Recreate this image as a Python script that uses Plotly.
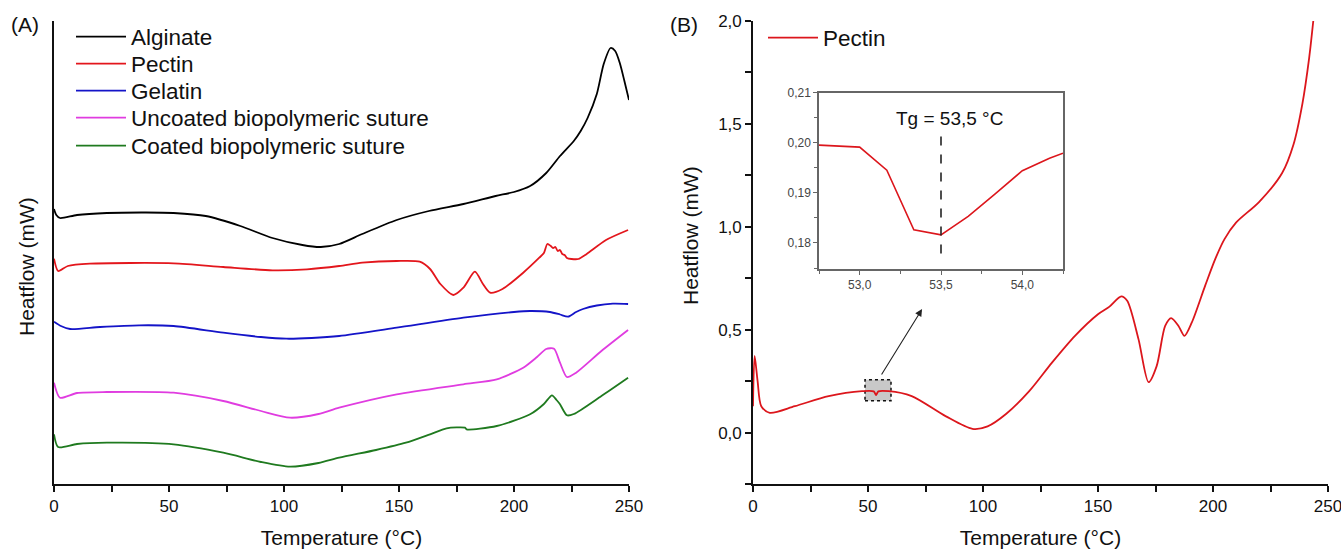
import plotly.graph_objects as go

W, H = 1341, 549

# ---------------- Panel A data (arbitrary offset units) ----------------
T_ALG = [0, 1, 2.6, 10, 23, 40, 52, 66, 81, 95, 108, 116, 124, 134, 149, 163, 178, 192, 200, 207,
         214, 220, 226, 229, 232, 236, 239, 242, 244, 246, 248, 250]
Y_ALG = [2.75, 2.69, 2.66, 2.69, 2.71, 2.715, 2.71, 2.68, 2.58, 2.46, 2.39, 2.37, 2.40, 2.50, 2.64,
         2.73, 2.80, 2.88, 2.92, 2.98, 3.11, 3.28, 3.43, 3.53, 3.66, 3.90, 4.20, 4.36, 4.33, 4.21, 4.03, 3.84]

T_PEC_A = [0, 1.8, 6, 15.6, 52, 73.6, 95, 110, 124, 134, 149, 159, 163.5, 168, 173.6, 178, 183, 186.5,
           189.6, 195, 204, 211, 213, 214.5, 216, 217, 218, 219, 220, 221, 222, 223, 225, 228, 231.6, 240, 249.6]
Y_PEC_A = [2.253, 2.13, 2.18, 2.203, 2.207, 2.17, 2.137, 2.147, 2.18, 2.213, 2.23, 2.223, 2.15, 2.00,
           1.89, 1.963, 2.123, 2.00, 1.913, 1.95, 2.113, 2.263, 2.31, 2.40, 2.38, 2.36, 2.37, 2.33, 2.34,
           2.30, 2.29, 2.26, 2.25, 2.25, 2.30, 2.44, 2.54]

T_GEL = [0, 3, 7, 20, 37, 52, 73.6, 90, 101, 112, 124, 149, 178, 200, 207, 215.6, 220, 223.5, 227,
         230, 236, 243, 249.6]
Y_GEL = [1.623, 1.58, 1.55, 1.57, 1.587, 1.58, 1.513, 1.47, 1.453, 1.46, 1.48, 1.563, 1.663, 1.72,
         1.73, 1.72, 1.695, 1.673, 1.72, 1.75, 1.785, 1.803, 1.80]

T_UNC = [0, 2.6, 10, 23, 52, 73.6, 90, 102.6, 115, 124, 149, 178, 192.5, 204, 210, 214, 217.4, 220,
         223, 227, 238, 249.6]
Y_UNC = [1.013, 0.863, 0.91, 0.92, 0.913, 0.83, 0.73, 0.663, 0.70, 0.763, 0.897, 0.997, 1.047, 1.163,
         1.27, 1.35, 1.353, 1.213, 1.07, 1.113, 1.33, 1.54]

T_COA = [0, 1.8, 10, 23, 52, 73.6, 90, 102.6, 115, 124, 140, 153, 163.5, 170.7, 178.7, 179.4, 192.5,
         207, 213, 216.5, 218.5, 220, 223, 226, 238, 249.6]
Y_COA = [0.497, 0.37, 0.40, 0.413, 0.397, 0.313, 0.22, 0.173, 0.21, 0.263, 0.34, 0.413, 0.497, 0.557,
         0.563, 0.547, 0.58, 0.697, 0.80, 0.887, 0.84, 0.797, 0.687, 0.70, 0.88, 1.063]

# ---------------- Panel B data (mW) ----------------
T_PEC_B = [0, 0.7, 2, 3.6, 7.3, 18.2, 32.9, 47.4, 52.5, 53.5, 54.5, 59, 69, 83.7, 95.4, 102, 110, 120,
           130, 140, 150, 155, 160.1, 162.7, 167.6, 172, 175.5, 179.2, 181.8, 185, 187.6, 190.8, 196.6,
           201, 205, 210, 220, 230, 235, 238.9, 241.8, 243.6]
Y_PEC_B = [0.128, 0.372, 0.25, 0.128, 0.096, 0.128, 0.177, 0.201, 0.2, 0.182, 0.2, 0.201, 0.177, 0.08,
           0.018, 0.03, 0.09, 0.2, 0.34, 0.47, 0.575, 0.612, 0.662, 0.64, 0.454, 0.245, 0.323, 0.518, 0.556,
           0.518, 0.47, 0.535, 0.714, 0.844, 0.94, 1.02, 1.12, 1.26, 1.40, 1.60, 1.82, 2.0]

# Inset (zoom around Tg)
T_INSET = [52.75, 53.0, 53.167, 53.333, 53.5, 53.667, 53.833, 54.0, 54.167, 54.25]
Y_INSET = [0.1995, 0.1991, 0.1945, 0.1826, 0.1816, 0.1853, 0.1898, 0.1944, 0.1969, 0.1979]
TG = 53.5
TG_LINE_Y = [0.1779, 0.2022]
TG_LABEL_Y = 0.2049
ZOOM_BOX_X = [48.7, 60.0]
ZOOM_BOX_Y = [0.155, 0.257]
ARROW_FROM = (55.5, 0.275)
ARROW_TO = (73.5, 0.60)

SERIES_A = [
    ("Alginate", T_ALG, Y_ALG, "#000000"),
    ("Pectin", T_PEC_A, Y_PEC_A, "#e3161c"),
    ("Gelatin", T_GEL, Y_GEL, "#1414c8"),
    ("Uncoated biopolymeric suture", T_UNC, Y_UNC, "#e03ce0"),
    ("Coated biopolymeric suture", T_COA, Y_COA, "#1f7a1f"),
]

FONT = "Liberation Sans, Arial, sans-serif"
LEG_FONT = dict(family=FONT, size=22.5, color="#111")

fig = go.Figure()
legend_ids = ["legend", "legend3", "legend4", "legend5", "legend6"]
for (name, t, y, c), lg in zip(SERIES_A, legend_ids):
    fig.add_trace(go.Scatter(x=t, y=y, mode="lines", name=name, xaxis="x", yaxis="y",
                             line=dict(color=c, width=1.8, shape="spline", smoothing=0.7),
                             legend=lg))

fig.add_trace(go.Scatter(x=T_PEC_B, y=Y_PEC_B, mode="lines", name="Pectin", xaxis="x2", yaxis="y2",
                         line=dict(color="#dc161c", width=1.8, shape="spline", smoothing=0.8),
                         legend="legend2"))

fig.add_trace(go.Scatter(x=T_INSET, y=Y_INSET, mode="lines", showlegend=False, xaxis="x3", yaxis="y3",
                         line=dict(color="#dc161c", width=1.6)))
fig.add_trace(go.Scatter(x=[TG, TG], y=TG_LINE_Y, mode="lines", showlegend=False, xaxis="x3", yaxis="y3",
                         line=dict(color="#222222", width=1.6, dash="dash")))

# Domains (paper fractions)
axA = [54 / W, 629 / W]
axB = [753 / W, 1328 / W]
ydom = [1 - 484 / H, 1 - 21 / H]
axI = [819 / W, 1063 / W]
yI = [1 - 269 / H, 1 - 92.5 / H]

tickfont = dict(family=FONT, size=17, color="#111")
common_x = dict(range=[0, 250], tickvals=[0, 50, 100, 150, 200, 250], showline=True, linecolor="#111",
                linewidth=1.6, ticks="outside", ticklen=6, tickwidth=1.5, tickcolor="#111", automargin=False,
                ticklabeloverflow="allow",
                minor=dict(ticks="outside", dtick=25, tick0=0, ticklen=6, tickwidth=1.5, tickcolor="#111"),
                showgrid=False, zeroline=False, tickfont=tickfont,
                title=dict(text="Temperature (°C)", font=dict(family=FONT, size=21, color="#111"), standoff=17))


def leg(x_px, yc_px):
    return dict(x=x_px / W, y=1 - yc_px / H, xanchor="left", yanchor="middle", bgcolor="rgba(0,0,0,0)",
                font=LEG_FONT, itemwidth=50)


fig.update_layout(
    width=W, height=H, margin=dict(l=0, r=0, t=0, b=0, autoexpand=False),
    paper_bgcolor="white", plot_bgcolor="white", separators=",.",
    font=dict(family=FONT, color="#111"),
    xaxis=dict(domain=axA, anchor="y", **common_x),
    yaxis=dict(domain=ydom, anchor="x", range=[0, 4.63], showline=True, linecolor="#111", linewidth=1.6,
               ticks="", showticklabels=False, showgrid=False, zeroline=False, automargin=False),
    xaxis2=dict(domain=axB, anchor="y2", **common_x),
    yaxis2=dict(domain=ydom, anchor="x2", range=[-0.25, 2.0], tickvals=[0, 0.5, 1.0, 1.5, 2.0],
                tickformat=".1f", showline=True, linecolor="#111", linewidth=1.6, ticks="outside",
                ticklen=6, tickwidth=1.5, tickcolor="#111", automargin=False, ticklabeloverflow="allow",
                minor=dict(ticks="outside", dtick=0.25, tick0=0, ticklen=6, tickwidth=1.5, tickcolor="#111"),
                showgrid=False, zeroline=False, tickfont=tickfont),
    xaxis3=dict(domain=axI, anchor="y3", range=[52.75, 54.25], tickvals=[53.0, 53.5, 54.0], tickformat=".1f",
                showline=True, mirror=True, linecolor="#666", linewidth=1.5, ticks="outside", ticklen=4,
                tickcolor="#666", automargin=False,
                minor=dict(ticks="outside", dtick=0.25, tick0=53.25, ticklen=3, tickcolor="#666"),
                showgrid=False, zeroline=False, tickfont=dict(family=FONT, size=12, color="#444")),
    yaxis3=dict(domain=yI, anchor="x3", range=[0.1748, 0.21], tickvals=[0.18, 0.19, 0.20, 0.21], tickformat=".2f",
                showline=True, mirror=True, linecolor="#666", linewidth=1.5, ticks="outside", ticklen=4,
                tickcolor="#666", automargin=False,
                minor=dict(ticks="outside", dtick=0.005, tick0=0.175, ticklen=3, tickcolor="#666"),
                showgrid=False, zeroline=False, tickfont=dict(family=FONT, size=12, color="#444")),
    legend=leg(71, 37),
    legend3=leg(71, 64),
    legend4=leg(71, 91),
    legend5=leg(71, 118),
    legend6=leg(71, 146),
    legend2=leg(763, 38),
)

fig.add_shape(type="rect", xref="x2", yref="y2", x0=ZOOM_BOX_X[0], x1=ZOOM_BOX_X[1],
              y0=ZOOM_BOX_Y[0], y1=ZOOM_BOX_Y[1], fillcolor="#c8c8c8",
              line=dict(color="#111", width=1.5, dash="dot"), layer="below")

fig.add_annotation(x=ARROW_TO[0], y=ARROW_TO[1], ax=ARROW_FROM[0], ay=ARROW_FROM[1], xref="x2", yref="y2",
                   axref="x2", ayref="y2", showarrow=True, arrowhead=2, arrowsize=1.3, arrowwidth=1.1,
                   arrowcolor="#222", text="")

fig.add_annotation(x=TG + 0.05, y=TG_LABEL_Y, xref="x3", yref="y3", text="Tg = 53,5 °C", showarrow=False,
                   font=dict(family=FONT, size=19, color="#111"))

# Panel labels & y titles
fig.add_annotation(x=9 / W, y=1 - 25 / H, xref="paper", yref="paper", text="(A)", showarrow=False,
                   xanchor="left", yanchor="middle", font=dict(family=FONT, size=21, color="#111"))
fig.add_annotation(x=668 / W, y=1 - 25 / H, xref="paper", yref="paper", text="(B)", showarrow=False,
                   xanchor="left", yanchor="middle", font=dict(family=FONT, size=21, color="#111"))
fig.add_annotation(x=26 / W, y=1 - 267 / H, xref="paper", yref="paper", text="Heatflow (mW)", textangle=-90,
                   xanchor="center", yanchor="middle",
                   showarrow=False, font=dict(family=FONT, size=21, color="#111"))
fig.add_annotation(x=690 / W, y=1 - 236 / H, xref="paper", yref="paper", text="Heatflow (mW)", textangle=-90,
                   xanchor="center", yanchor="middle",
                   showarrow=False, font=dict(family=FONT, size=21, color="#111"))

fig.write_html("out.html")
